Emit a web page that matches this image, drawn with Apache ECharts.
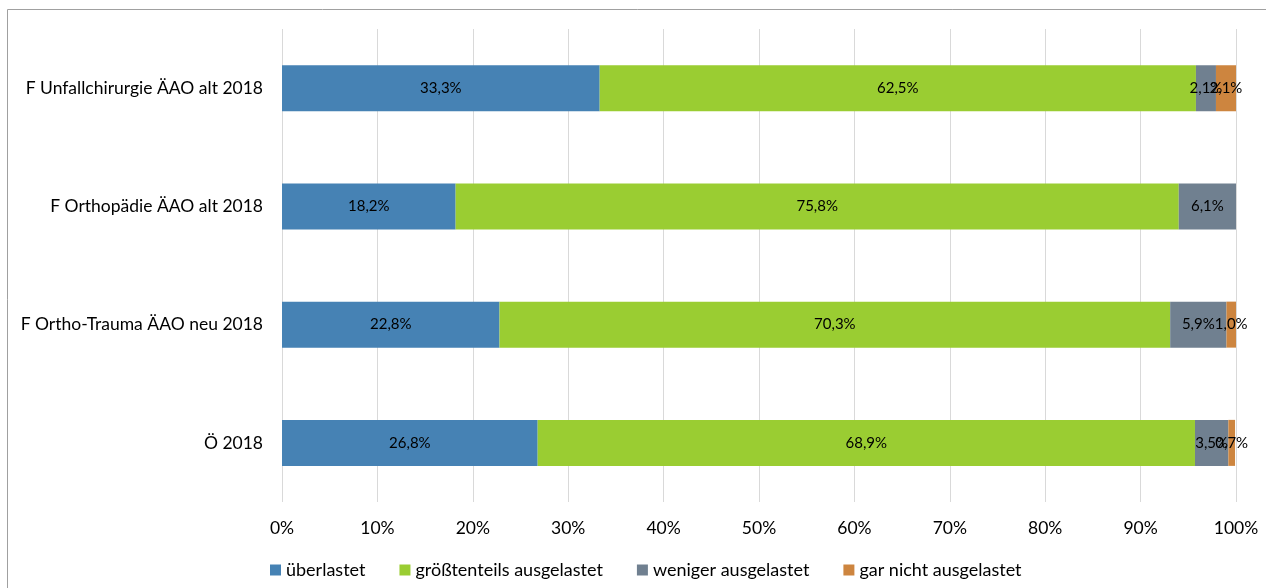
<!DOCTYPE html>
<html>
<head>
<meta charset="utf-8">
<script src="https://cdn.jsdelivr.net/npm/echarts@6/dist/echarts.min.js"></script>
<style>
  html, body { margin: 0; padding: 0; background: #fff; }
  #chart { width: 1266px; height: 588px; }
</style>
</head>
<body>
<div id="chart"></div>
<script>
const categories = ['Ö 2018', 'F Ortho-Trauma ÄAO neu 2018', 'F Orthopädie ÄAO alt 2018', 'F Unfallchirurgie ÄAO alt 2018']
const seriesNames = ['überlastet', 'größtenteils ausgelastet', 'weniger ausgelastet', 'gar nicht ausgelastet']
const ueberlastet = [26.8, 22.8, 18.2, 33.3]
const groesstenteils = [68.9, 70.3, 75.8, 62.5]
const weniger = [3.5, 5.9, 6.1, 2.1]
const garNicht = [0.7, 1.0, 0, 2.1]
const colors = ['#4682B4', '#9ACD32', '#708090', '#CD853F']

const font = 'Lato, "Liberation Sans", sans-serif'
const allValues = [ueberlastet, groesstenteils, weniger, garNicht]

const chart = echarts.init(document.getElementById('chart'))
chart.setOption({
  animation: false,
  textStyle: { fontFamily: font },
  graphic: [{
    type: 'rect',
    shape: { x: 7.5, y: 9.5, width: 1400, height: 800 },
    style: { fill: 'none', stroke: '#a0a0a0', lineWidth: 1 },
    silent: true
  }],
  grid: { left: 282, right: 30, top: 29, bottom: 86 },
  legend: {
    left: 265,
    top: 556,
    itemWidth: 11,
    itemHeight: 11,
    itemGap: 34,
    icon: 'rect',
    textStyle: { fontFamily: font, fontSize: 18, color: '#000' },
    data: seriesNames
  },
  xAxis: {
    type: 'value',
    min: 0,
    max: 100,
    interval: 10,
    axisLine: { show: false },
    axisTick: { show: false },
    axisLabel: { formatter: '{value}%', fontSize: 17.5, color: '#000', margin: 17 },
    splitLine: { lineStyle: { color: '#d9d9d9', width: 1 } }
  },
  yAxis: {
    type: 'category',
    data: categories,
    axisLine: { show: false },
    axisTick: { show: false },
    axisLabel: { fontSize: 17.5, color: '#000', margin: 19 }
  },
  series: seriesNames.map((name, i) => ({
    name: name,
    type: 'bar',
    stack: 'total',
    barWidth: 46,
    data: allValues[i],
    itemStyle: { color: colors[i] },
    label: {
      show: true,
      position: 'inside',
      fontSize: 15,
      color: '#000',
      formatter: p => p.value ? p.value.toFixed(1).replace('.', ',') + '%' : ''
    }
  }))
})
</script>
</body>
</html>
